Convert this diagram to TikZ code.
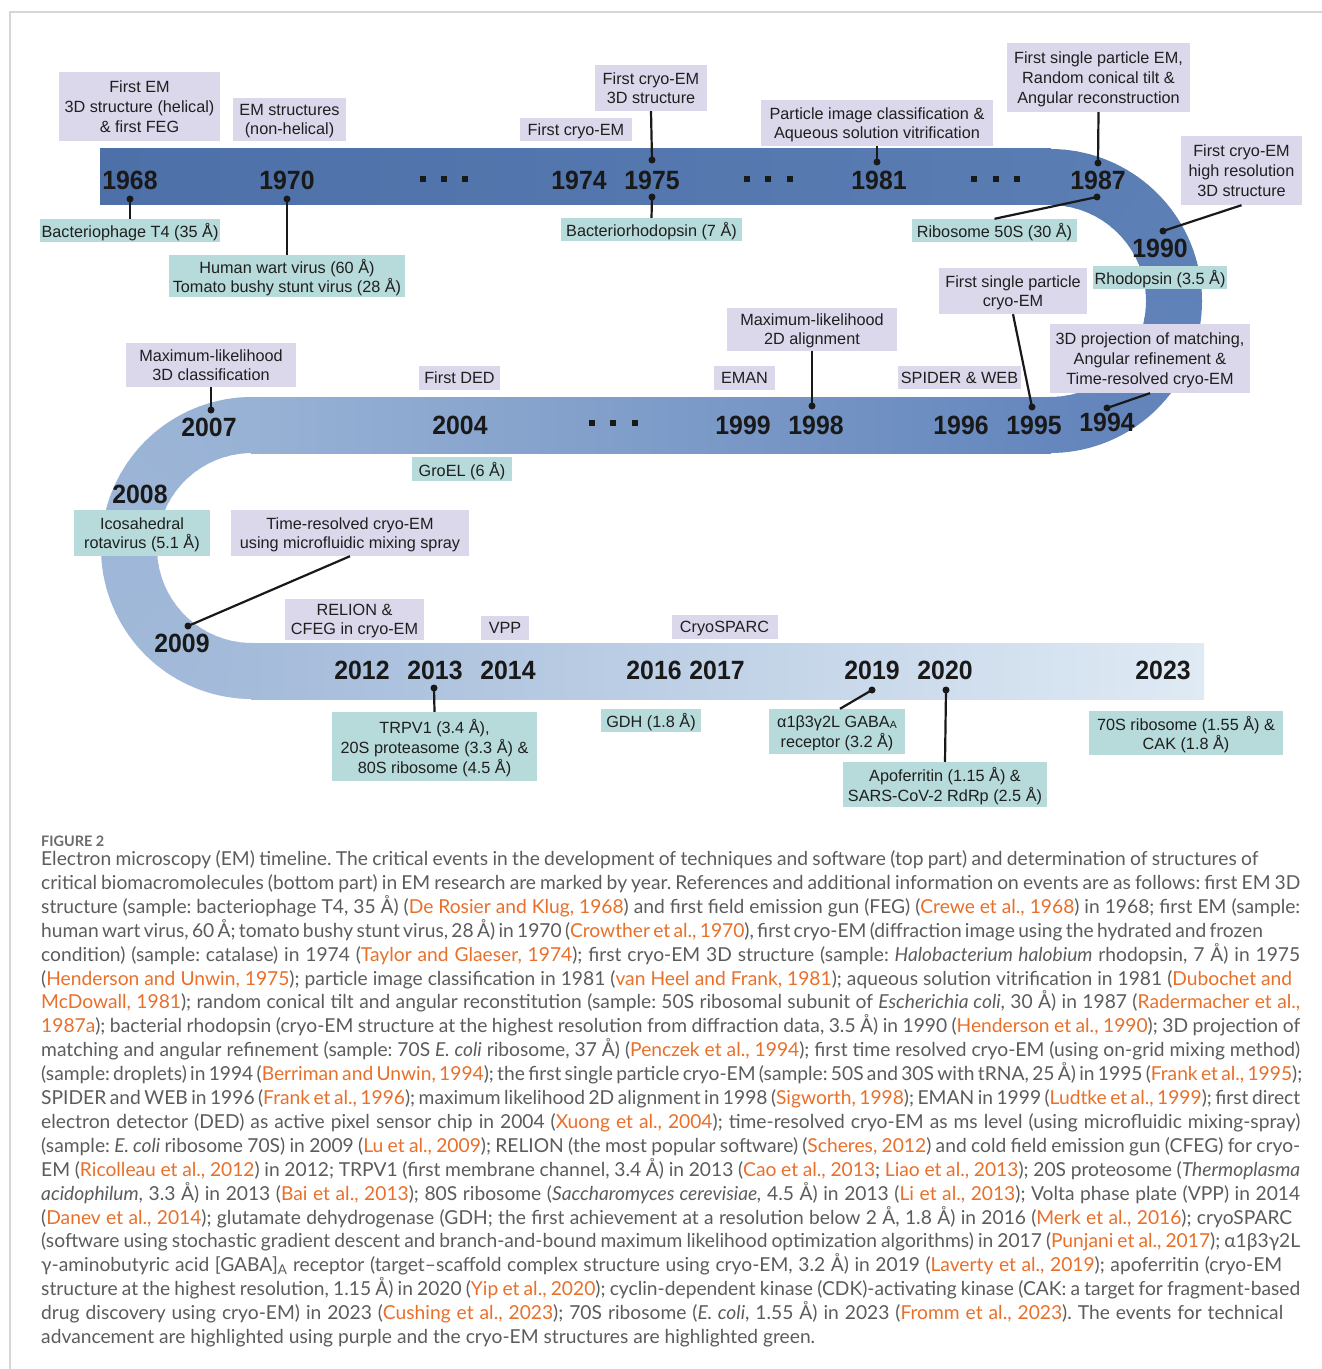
\documentclass[tikz,border=0pt]{standalone}
\usepackage{fontspec}
\setmainfont{Liberation Sans}
\newfontfamily\yearfont[FakeStretch=0.94]{Liberation Sans Bold}
\newfontfamily\capfont{Lato}
\frenchspacing
\definecolor{boxP}{HTML}{DCD8EC}
\definecolor{boxG}{HTML}{B7DBDA}
\definecolor{bA}{HTML}{4E70A8}
\definecolor{bB}{HTML}{597CB3}
\definecolor{bC}{HTML}{6587BD}
\definecolor{bD}{HTML}{98B2D5}
\definecolor{bE}{HTML}{A4BBDA}
\definecolor{bF}{HTML}{DFEAF4}
\definecolor{capgray}{HTML}{5C5C5C}
\definecolor{citeor}{HTML}{E8702A}
\definecolor{framegray}{HTML}{D6D6D6}
\newcommand\lblfont{\fontsize{16.3}{19.7}\selectfont}
\newcommand\yrfont{\yearfont\fontsize{26.5}{26.5}\selectfont}
\newcommand\capsize{\capfont\fontsize{19.3}{22}\selectfont}
\newcommand\ct[1]{\textcolor{citeor}{#1}}
\newcommand\capline[4]{\node[capl] (#1) at (41,#2+1.5) {\makebox[#3bp][s]{#4}};}
\tikzset{
  pbox/.style={fill=boxP, inner sep=0pt, align=center, font=\lblfont, text=black!88, text depth=0pt},
  gbox/.style={fill=boxG, inner sep=0pt, align=center, font=\lblfont, text=black!88, text depth=0pt},
  yr/.style={font=\yrfont, text=black!90, inner sep=0pt},
  mk/.style={circle, fill=black!90, inner sep=0pt, minimum size=7bp},
  conn/.style={line width=2.2bp, black!90},
  capl/.style={anchor=base west, inner sep=0pt, font=\capsize, text=capgray},
}
\begin{document}
\begin{tikzpicture}[x=1bp,y=-1bp]
\useasboundingbox (0,0) rectangle (1322,1369);
\fill[white] (0,0) rectangle (1322,1369);
\draw[framegray, line width=1.5bp] (10,1369) -- (10,12) -- (1322,12);

% ---------- ribbon ----------
\shade[left color=bA, right color=bB] (100,149) rectangle (1051,205);
\foreach \i in {0,...,35}{
  \pgfmathsetmacro\ang{-90+5*\i}
  \pgfmathsetmacro\pc{100*\i/35}
  \draw[line width=56bp, color=bC!\pc!bB] (1050,301) ++(\ang:124) arc[start angle=\ang, end angle=\ang+5.6, radius=124];
}
\shade[left color=bD, right color=bC] (251,397) rectangle (1051,453);
\foreach \i in {0,...,35}{
  \pgfmathsetmacro\ang{270-5*\i}
  \pgfmathsetmacro\pc{100*\i/35}
  \draw[line width=56bp, color=bE!\pc!bD] (252,548) ++(\ang:123) arc[start angle=\ang, end angle=\ang-5.6, radius=123];
}
\shade[left color=bE, right color=bF] (251,643) rectangle (1204,699);

% ---------- ellipsis dots ----------
\foreach \x/\y in {423/179,444/179,465/179,747/179,768/179,790/179,974/179,996/179,1017/179,592/423,613/423,635/423}{
  \fill[black!90] (\x-2.6,\y-2.6) rectangle (\x+2.6,\y+2.6);
}

% ---------- years ----------
\node[yr] (y1968) at (130,180) {1968};
\node[yr] (y1970) at (287,180) {1970};
\node[yr] (y1974) at (579,180) {1974};
\node[yr] (y1975) at (652,180) {1975};
\node[yr] (y1981) at (879,180) {1981};
\node[yr] (y1987) at (1098,180) {1987};
\node[yr] (y1990) at (1160,248) {1990};
\node[yr] (y1994) at (1107,422) {1994};
\node[yr] (y1995) at (1034,425) {1995};
\node[yr] (y1996) at (961,425) {1996};
\node[yr] (y1998) at (816,425) {1998};
\node[yr] (y1999) at (743,425) {1999};
\node[yr] (y2004) at (460,425) {2004};
\node[yr] (y2007) at (209,427) {2007};
\node[yr] (y2008) at (140,494) {2008};
\node[yr] (y2009) at (182,643) {2009};
\node[yr] (y2012) at (362,670) {2012};
\node[yr] (y2013) at (435,670) {2013};
\node[yr] (y2014) at (508,670) {2014};
\node[yr] (y2016) at (654,670) {2016};
\node[yr] (y2017) at (717,670) {2017};
\node[yr] (y2019) at (872,670) {2019};
\node[yr] (y2020) at (945,670) {2020};
\node[yr] (y2023) at (1163,670) {2023};

% ---------- technique boxes (purple) ----------
\node[pbox, minimum width=161bp, minimum height=69bp] (p1) at (139.5,106.5) {First EM\\3D structure (helical)\\\& first FEG};
\node[pbox, minimum width=113bp, minimum height=43bp] (p2) at (289.5,119.5) {EM structures\\(non-helical)};
\node[pbox, minimum width=112bp, minimum height=23bp] (p3) at (576,129.5) {First cryo-EM};
\node[pbox, minimum width=112bp, minimum height=46bp] (p4) at (651,88) {First cryo-EM\\3D structure};
\node[pbox, minimum width=232bp, minimum height=46bp] (p5) at (877,123) {Particle image classification \&\\Aqueous solution vitrification};
\node[pbox, minimum width=183bp, minimum height=69bp] (p6) at (1098.5,77.5) {First single particle EM,\\Random conical tilt \&\\Angular reconstruction};
\node[pbox, minimum width=121bp, minimum height=69bp] (p7) at (1241.5,170.5) {First cryo-EM\\high resolution\\3D structure};
\node[pbox, minimum width=148bp, minimum height=46bp] (p8) at (1013,291) {First single particle\\cryo-EM};
\node[pbox, minimum width=200bp, minimum height=69bp] (p9) at (1150,358.5) {3D projection of matching,\\Angular refinement \&\\Time-resolved cryo-EM};
\node[pbox, minimum width=123bp, minimum height=23bp] (p10) at (959.5,377.5) {SPIDER \& WEB};
\node[pbox, minimum width=170bp, minimum height=43bp] (p11) at (812,329) {Maximum-likelihood\\2D alignment};
\node[pbox, minimum width=61bp, minimum height=24bp] (p12) at (744.5,378) {EMAN};
\node[pbox, minimum width=81bp, minimum height=24bp] (p13) at (459.5,378) {First DED};
\node[pbox, minimum width=170bp, minimum height=44bp] (p14) at (211,365) {Maximum-likelihood\\3D classification};
\node[pbox, minimum width=238bp, minimum height=46bp] (p15) at (350,533) {Time-resolved cryo-EM\\using microfluidic mixing spray};
\node[pbox, minimum width=139bp, minimum height=41bp] (p16) at (354.5,619.5) {RELION \&\\CFEG in cryo-EM};
\node[pbox, minimum width=48bp, minimum height=24bp] (p17) at (505,628) {VPP};
\node[pbox, minimum width=106bp, minimum height=24bp] (p18) at (724.5,627) {CryoSPARC};

% ---------- structure boxes (green) ----------
\node[gbox, minimum width=180bp, minimum height=23bp] (g1) at (130,230.5) {Bacteriophage T4 (35 Å)};
\node[gbox, minimum width=236bp, minimum height=42bp] (g2) at (287,276) {Human wart virus (60 Å)\\Tomato bushy stunt virus (28 Å)};
\node[gbox, minimum width=181bp, minimum height=23bp] (g3) at (651.5,229.5) {Bacteriorhodopsin (7 Å)};
\node[gbox, minimum width=165bp, minimum height=23bp] (g4) at (994.5,230.5) {Ribosome 50S (30 Å)};
\node[gbox, minimum width=134bp, minimum height=23bp] (g5) at (1160,277.5) {Rhodopsin (3.5 Å)};
\node[gbox, minimum width=100bp, minimum height=24bp] (g6) at (462,469) {GroEL (6 Å)};
\node[gbox, minimum width=136bp, minimum height=46bp] (g7) at (142,533) {Icosahedral\\rotavirus (5.1 Å)};
\node[gbox, minimum width=205bp, minimum height=69bp] (g8) at (434.5,746.5) {TRPV1 (3.4 Å),\\20S proteasome (3.3 Å) \&\\80S ribosome (4.5 Å)};
\node[gbox, minimum width=100bp, minimum height=23bp] (g9) at (651,720.5) {GDH (1.8 Å)};
\node[gbox, minimum width=136bp, minimum height=45bp] (g10) at (837,731.5) {α1β3γ2L GABA\raisebox{-1bp}{\fontsize{10.5}{10.5}\selectfont A}\\receptor (3.2 Å)};
\node[gbox, minimum width=204bp, minimum height=45bp] (g11) at (945,784.5) {Apoferritin (1.15 Å) \&\\SARS-CoV-2 RdRp (2.5 Å)};
\node[gbox, minimum width=194bp, minimum height=44bp] (g12) at (1186,733) {70S ribosome (1.55 Å) \&\\CAK (1.8 Å)};

% ---------- markers ----------
\node[mk] (m68) at (130,199) {};
\node[mk] (m70) at (287,199) {};
\node[mk] (m75a) at (652,160) {};
\node[mk] (m75b) at (652,197) {};
\node[mk] (m81) at (877,162) {};
\node[mk] (m87a) at (1098,163) {};
\node[mk] (m87b) at (1097,197) {};
\node[mk] (m90) at (1163,231) {};
\node[mk] (m95) at (1032,407) {};
\node[mk] (m94) at (1107,408) {};
\node[mk] (m98) at (812,406) {};
\node[mk] (m07) at (211,410) {};
\node[mk] (m09) at (188,626) {};
\node[mk] (m13) at (434,688) {};
\node[mk] (m19) at (872,690) {};
\node[mk] (m20) at (946,690) {};

% ---------- connectors ----------
\draw[conn] (m68.center) -- (g1.north);
\draw[conn] (m70.center) -- (g2.north);
\draw[conn] (p4.south) -- (m75a.center);
\draw[conn] (m75b.center) -- (g3.north);
\draw[conn] (p5.south) -- (m81.center);
\draw[conn] (p6.south) -- (m87a.center);
\draw[conn] (m87b.center) -- (g4.north);
\draw[conn] (m90.center) -- (p7.south);
\draw[conn] (p8.south) -- (m95.center);
\draw[conn] (p9.south) -- (m94.center);
\draw[conn] (p11.south) -- (m98.center);
\draw[conn] (p14.south) -- (m07.center);
\draw[conn] (p15.south) -- (m09.center);
\draw[conn] (m13.center) -- (g8.north);
\draw[conn] (m19.center) -- ([xshift=3bp]g10.north);
\draw[conn] (m20.center) -- (g11.north);

% ---------- caption ----------
\node[anchor=base west, inner sep=0pt, text=black!58, font={\capfont\fontsize{14.5}{15}\selectfont\bfseries}] (figlbl) at (41,846) {FIGURE 2};
\capline{c1}{864}{1217}{Electron microscopy (EM) timeline. The critical events in the development of techniques and software (top part) and determination of structures of}
\capline{c2}{887.9}{1259}{critical biomacromolecules (bottom part) in EM research are marked by year. References and additional information on events are as follows: first EM 3D}
\capline{c3}{911.8}{1259}{structure (sample: bacteriophage T4, 35 Å) (\ct{De Rosier and Klug, 1968}) and first field emission gun (FEG) (\ct{Crewe et al., 1968}) in 1968; first EM (sample:}
\capline{c4}{935.7}{1217}{human wart virus, 60 Å; tomato bushy stunt virus, 28 Å) in 1970 (\ct{Crowther et al., 1970}), first cryo-EM (diffraction image using the hydrated and frozen}
\capline{c5}{959.6}{1259}{condition) (sample: catalase) in 1974 (\ct{Taylor and Glaeser, 1974}); first cryo-EM 3D structure (sample: \textit{Halobacterium halobium} rhodopsin, 7 Å) in 1975}
\capline{c6}{983.5}{1251}{(\ct{Henderson and Unwin, 1975}); particle image classification in 1981 (\ct{van Heel and Frank, 1981}); aqueous solution vitrification in 1981 (\ct{Dubochet and}}
\capline{c7}{1007.4}{1259}{\ct{McDowall, 1981}); random conical tilt and angular reconstitution (sample: 50S ribosomal subunit of \textit{Escherichia coli}, 30 Å) in 1987 (\ct{Radermacher et al.,}}
\capline{c8}{1031.3}{1259}{\ct{1987a}); bacterial rhodopsin (cryo-EM structure at the highest resolution from diffraction data, 3.5 Å) in 1990 (\ct{Henderson et al., 1990}); 3D projection of}
\capline{c9}{1055.2}{1259}{matching and angular refinement (sample: 70S \textit{E. coli} ribosome, 37 Å) (\ct{Penczek et al., 1994}); first time resolved cryo-EM (using on-grid mixing method)}
\capline{c10}{1079.1}{1259}{(sample: droplets) in 1994 (\ct{Berriman and Unwin, 1994}); the first single particle cryo-EM (sample: 50S and 30S with tRNA, 25 Å) in 1995 (\ct{Frank et al., 1995});}
\capline{c11}{1103}{1259}{SPIDER and WEB in 1996 (\ct{Frank et al., 1996}); maximum likelihood 2D alignment in 1998 (\ct{Sigworth, 1998}); EMAN in 1999 (\ct{Ludtke et al., 1999}); first direct}
\capline{c12}{1126.9}{1259}{electron detector (DED) as active pixel sensor chip in 2004 (\ct{Xuong et al., 2004}); time-resolved cryo-EM as ms level (using microfluidic mixing-spray)}
\capline{c13}{1150.8}{1259}{(sample: \textit{E. coli} ribosome 70S) in 2009 (\ct{Lu et al., 2009}); RELION (the most popular software) (\ct{Scheres, 2012}) and cold field emission gun (CFEG) for cryo-}
\capline{c14}{1174.7}{1259}{EM (\ct{Ricolleau et al., 2012}) in 2012; TRPV1 (first membrane channel, 3.4 Å) in 2013 (\ct{Cao et al., 2013}; \ct{Liao et al., 2013}); 20S proteosome (\textit{Thermoplasma}}
\capline{c15}{1198.6}{1259}{\textit{acidophilum}, 3.3 Å) in 2013 (\ct{Bai et al., 2013}); 80S ribosome (\textit{Saccharomyces cerevisiae,} 4.5 Å) in 2013 (\ct{Li et al., 2013}); Volta phase plate (VPP) in 2014}
\capline{c16}{1222.5}{1251}{(\ct{Danev et al., 2014}); glutamate dehydrogenase (GDH; the first achievement at a resolution below 2 Å, 1.8 Å) in 2016 (\ct{Merk et al., 2016}); cryoSPARC}
\capline{c17}{1246.4}{1259}{(software using stochastic gradient descent and branch-and-bound maximum likelihood optimization algorithms) in 2017 (\ct{Punjani et al., 2017}); α1β3γ2L}
\capline{c18}{1270.3}{1241}{γ-aminobutyric acid [GABA]\textsubscript{A} receptor (target–scaffold complex structure using cryo-EM, 3.2 Å) in 2019 (\ct{Laverty et al., 2019}); apoferritin (cryo-EM}
\capline{c19}{1294.2}{1259}{structure at the highest resolution, 1.15 Å) in 2020 (\ct{Yip et al., 2020}); cyclin-dependent kinase (CDK)-activating kinase (CAK: a target for fragment-based}
\capline{c20}{1318.1}{1242}{drug discovery using cryo-EM) in 2023 (\ct{Cushing et al., 2023}); 70S ribosome (\textit{E. coli}, 1.55 Å) in 2023 (\ct{Fromm et al., 2023}). The events for technical}
\node[capl] (c21) at (41,1343.5) {advancement are highlighted using purple and the cryo-EM structures are highlighted green.};
\end{tikzpicture}
\end{document}
